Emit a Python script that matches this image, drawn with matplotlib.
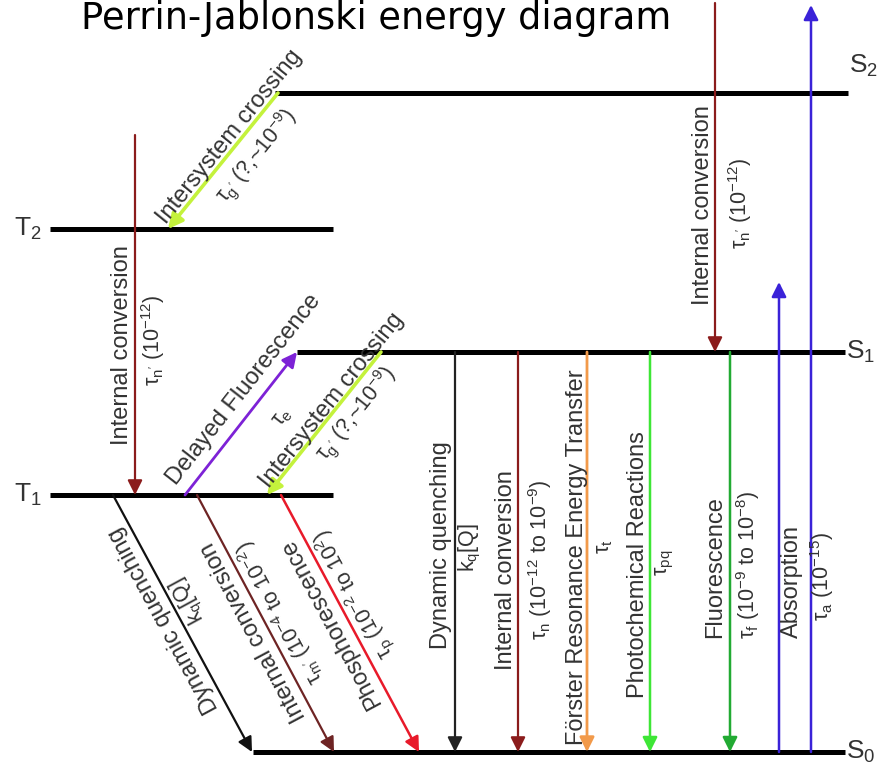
import math

import matplotlib

matplotlib.use("Agg")

import matplotlib.pyplot as plt

plt.rcParams["font.family"] = ["Liberation Sans", "DejaVu Sans"]
plt.rcParams["mathtext.fontset"] = "custom"
plt.rcParams["mathtext.rm"] = "Liberation Sans"
plt.rcParams["mathtext.it"] = "Liberation Sans:italic"
plt.rcParams["mathtext.default"] = "regular"

# energy levels (drawn in the pixel frame of the original figure, y down)
level_names = ["S0", "S1", "S2", "T1", "T2"]
level_tex = [r"S$_0$", r"S$_1$", r"S$_2$", r"T$_1$", r"T$_2$"]
level_y = [752, 352, 93, 495, 229]
level_x0 = [253, 297, 275, 50, 50]
level_x1 = [845, 845, 848, 333, 333]

# transitions: level from -> level to, x at each end, overshoot past the level
trans_name = [
    "Intersystem crossing",
    "Internal conversion",
    "Delayed Fluorescence",
    "Intersystem crossing",
    "Dynamic quenching",
    "Internal conversion",
    "Phosphorescence",
    "Dynamic quenching",
    "Internal conversion",
    "Förster Resonance Energy Transfer",
    "Photochemical Reactions",
    "Fluorescence",
    "Absorption",
    "",
    "Internal conversion",
]
trans_rate = [
    r"$\tau_{g'}$ (?,~10$^{-9}$)",
    r"$\tau_{n'}$ (10$^{-12}$)",
    r"$\tau_e$",
    r"$\tau_{g'}$ (?,~10$^{-9}$)",
    r"k$_q$[Q]",
    r"$\tau_{m'}$ (10$^{-4}$ to 10$^{-2}$)",
    r"$\tau_p$ (10$^{-2}$ to 10$^{2}$)",
    r"k$_q$[Q]",
    r"$\tau_n$ (10$^{-12}$ to 10$^{-9}$)",
    r"$\tau_t$",
    r"$\tau_{pq}$",
    r"$\tau_f$ (10$^{-9}$ to 10$^{-8}$)",
    r"$\tau_a$ (10$^{-15}$)",
    "",
    r"$\tau_{n'}$ (10$^{-12}$)",
]
trans_from = ["S2", "T2", "T1", "S1", "T1", "T1", "T1", "S1", "S1", "S1", "S1", "S1", "S0", "S0", "S2"]
trans_to = ["T2", "T1", "S1", "T1", "S0", "S0", "S0", "S0", "S0", "S0", "S0", "S0", "S1", "S2", "S1"]
trans_xa = [278, 135, 185, 381, 113, 197, 281, 455, 518, 587, 650, 730, 779, 811, 715]
trans_xb = [168, 135, 297, 267, 252, 334, 419, 455, 518, 587, 650, 730, 779, 811, 715]
start_extra = [0, 94, 0, 0, 0, 0, 0, 0, 0, 0, 0, 0, 0, 0, 90]
end_extra = [0, 0, 0, 0, 0, 0, 0, 0, 0, 0, 0, 0, 70, 88, 0]
trans_color = [
    "#c4f23c", "#8b1c1c", "#7d22d6", "#c4f23c", "#111111",
    "#6e2424", "#e81a2a", "#222222", "#8b1c1c", "#f29a4a",
    "#3ee636", "#22aa33", "#3a22d8", "#3a22d8", "#8b1c1c",
]
trans_lw = [2.6, 1.6, 2.0, 2.6, 1.6, 1.6, 1.8, 1.6, 1.6, 2.0, 1.8, 1.8, 1.8, 1.8, 1.6]

# label centres (name, rate)
name_xy = [
    (230, 137), (122, 345), (244, 390), (332, 400), (164, 620),
    (254, 632), (331, 623), (441, 545), (506, 570), (577, 557),
    (638, 565), (715, 567), (792, 582), None, (703, 205),
]
rate_xy = [
    (256, 156), (153, 340), (282, 417), (356, 414), (189, 600),
    (280, 612), (354, 594), (470, 547), (540, 560), (605, 547),
    (665, 563), (748, 565), (822, 577), None, (740, 203),
]

W, H = 879, 770
fig = plt.figure(figsize=(W / 100, H / 100), dpi=100, facecolor="white")
ax = fig.add_axes([0, 0, 1, 1])
ax.set_xlim(0, W)
ax.set_ylim(H, 0)
ax.axis("off")

ly = dict(zip(level_names, level_y))

for name, tex, y, x0, x1 in zip(level_names, level_tex, level_y, level_x0, level_x1):
    ax.plot([x0, x1], [y, y], color="black", lw=3.6, solid_capstyle="butt", zorder=2)
    if name.startswith("S"):
        dy = -27 if name == "S2" else 0
        ax.text(x1 + 16, y + dy, tex, fontsize=19, color="#333333", ha="center", va="center")
    else:
        ax.text(x0 - 22, y, tex, fontsize=19, color="#333333", ha="center", va="center")

text_color = "#333333"
for i in range(len(trans_name)):
    ya, yb = ly[trans_from[i]], ly[trans_to[i]]
    sign = 1 if yb > ya else -1
    ya = ya - sign * start_extra[i]
    yb = yb + sign * end_extra[i]
    xa, xb = trans_xa[i], trans_xb[i]
    ax.annotate(
        "", xy=(xb, yb), xytext=(xa, ya),
        arrowprops=dict(arrowstyle="-|>", color=trans_color[i], lw=trans_lw[i],
                        mutation_scale=22, shrinkA=0, shrinkB=0),
        zorder=3,
    )
    # text follows the line from its lower end to its upper end
    (lx, lyy), (ux, uy) = ((xa, ya), (xb, yb)) if ya > yb else ((xb, yb), (xa, ya))
    rot = math.degrees(math.atan2(lyy - uy, ux - lx))
    if name_xy[i] is not None and trans_name[i]:
        ax.text(*name_xy[i], trans_name[i], rotation=rot, fontsize=17, color=text_color,
                ha="center", va="center", zorder=4)
    if rate_xy[i] is not None and trans_rate[i]:
        ax.text(*rate_xy[i], trans_rate[i], rotation=rot, fontsize=15.5, color=text_color,
                ha="center", va="center", zorder=4)

ax.text(376, 29, "Perrin-Jablonski energy diagram", fontsize=26.5, color="black",
        family=["DejaVu Sans"], ha="center", va="baseline")

fig.savefig("out.png", dpi=100, facecolor="white")
plt.close(fig)
